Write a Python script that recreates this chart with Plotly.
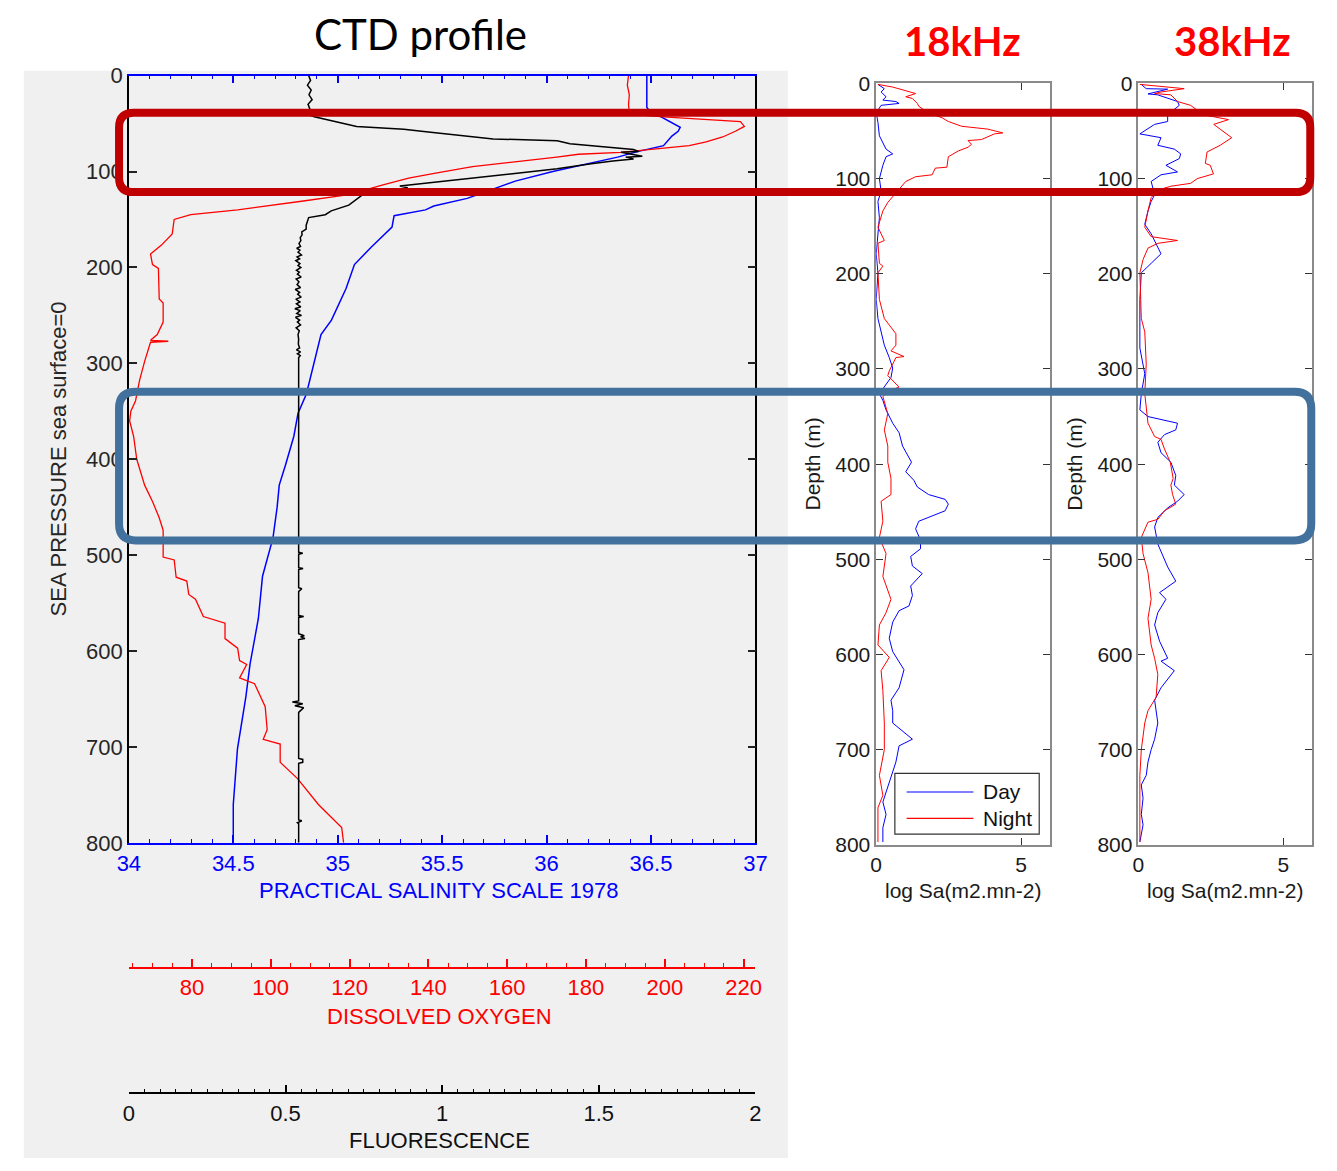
import plotly.graph_objects as go

W, H = 1337, 1171

# ---------------- CTD cast ----------------
sal_depth = [0, 33, 36, 44, 54, 58, 63, 73, 79, 85, 94, 100, 110, 119, 128, 136, 140, 146,
             158, 179, 197, 222, 255, 270, 298, 332, 352, 376, 406, 427, 450, 482, 522, 566,
             614, 648, 702, 760, 800]
salinity = [36.48, 36.48, 36.49, 36.56, 36.64, 36.63, 36.60, 36.56, 36.44, 36.34, 36.15, 36.03,
            35.85, 35.74, 35.62, 35.46, 35.42, 35.27, 35.26, 35.16, 35.08, 35.04, 34.97, 34.92,
            34.89, 34.85, 34.81, 34.79, 34.75, 34.72, 34.71, 34.69, 34.64, 34.62, 34.58, 34.56,
            34.52, 34.50, 34.50]

oxy_depth = [0, 10, 20, 30, 39, 41, 43, 48, 53, 58, 64, 69, 73, 77, 80, 82, 85, 90, 95, 102,
             107, 114, 124, 131, 140, 145, 150, 165, 177, 186, 197, 201, 233, 237, 257, 270,
             276, 277, 278, 298, 318, 339, 350, 360, 376, 400, 427, 444, 461, 474, 502, 505,
             523, 527, 541, 546, 564, 571, 587, 597, 610, 614, 628, 634, 658, 682, 692, 697,
             716, 733, 760, 773, 784, 800]
oxygen = [190.8, 190.5, 191.0, 190.8, 191.0, 193.3, 199.7, 219.2, 220.2, 217.9, 214.7, 210.5,
          206.2, 196.5, 188.8, 178.1, 172.6, 161.9, 151.2, 141.5, 135.0, 128.5, 119.8, 107.8,
          91.6, 79.7, 75.5, 75.0, 72.2, 69.5, 70.0, 71.5, 71.7, 72.7, 72.7, 71.2, 69.5, 74.0,
          69.5, 68.0, 66.7, 65.7, 64.5, 64.2, 65.2, 66.0, 68.0, 70.0, 71.7, 72.7, 72.7, 75.5,
          76.0, 78.7, 79.2, 80.9, 82.9, 88.4, 88.4, 91.6, 92.1, 93.9, 92.1, 95.9, 98.6, 99.1,
          98.1, 102.4, 102.4, 106.8, 112.1, 115.3, 118.0, 118.5]

flu_depth = [0, 5, 10, 15, 20, 25, 30, 35, 41, 43, 53, 54, 56, 58, 63, 66, 68, 71, 74, 77,
             79, 80, 84, 85, 87, 89, 92, 97, 102, 107, 112, 115, 117, 119, 122, 135, 141, 145,
             148, 152, 156, 160, 163, 166, 169, 172, 175, 178, 180, 182, 184, 187, 189, 191,
             193, 196, 198, 200, 203, 205, 207, 210, 212, 215, 218, 221, 223, 226, 228, 231,
             233, 236, 238, 241, 243, 245, 248, 250, 252, 255, 257, 260, 263, 266, 270, 275,
             280, 284, 286, 288, 290, 292, 294,
             497, 498, 499, 513, 514, 515, 534, 535, 537, 538, 563, 564, 565,
             582, 584, 585, 587, 588, 652, 653, 655, 657, 659, 664, 712, 713, 716, 717,
             776, 777, 779, 780, 800]
fluorescence = [0.574, 0.580, 0.570, 0.582, 0.575, 0.585, 0.572, 0.578, 0.575, 0.592, 0.727,
                0.784, 0.878, 0.934, 1.081, 1.163, 1.367, 1.408, 1.505, 1.611, 1.627, 1.571,
                1.639, 1.586, 1.611, 1.545, 1.476, 1.367, 1.232, 1.097, 0.959, 0.865, 0.890,
                0.865, 0.755, 0.702, 0.646, 0.627,
                0.574, 0.570, 0.566, 0.566, 0.552, 0.553, 0.547, 0.549, 0.543, 0.548, 0.536,
                0.546, 0.540, 0.551, 0.537, 0.545, 0.533, 0.546, 0.540, 0.549, 0.535, 0.544,
                0.538, 0.550, 0.534, 0.543, 0.537, 0.548, 0.531, 0.545, 0.539, 0.550, 0.533,
                0.546, 0.535, 0.549, 0.530, 0.547, 0.536, 0.551, 0.532, 0.545, 0.538, 0.548,
                0.534, 0.544, 0.540, 0.542, 0.541, 0.545, 0.535, 0.548, 0.538, 0.547, 0.542,
                0.542, 0.555, 0.542, 0.542, 0.556, 0.542, 0.542, 0.552, 0.545, 0.542,
                0.542, 0.558, 0.542, 0.542, 0.560, 0.548, 0.562, 0.542, 0.542, 0.522,
                0.555, 0.530, 0.558, 0.542, 0.542, 0.555, 0.555, 0.542, 0.542, 0.552,
                0.538, 0.542, 0.542]

sal_ticks = [34, 34.5, 35, 35.5, 36, 36.5, 37]
oxy_ticks = [80, 100, 120, 140, 160, 180, 200, 220]
flu_ticks = [0, 0.5, 1, 1.5, 2]
depth_ticks = [0, 100, 200, 300, 400, 500, 600, 700, 800]

# ---------------- Acoustic backscatter ----------------
d18_day = [1, 5.5, 9, 14, 17.5, 19, 21, 23, 31, 41, 55, 62, 69, 74, 77, 86, 100, 113, 124, 141,
           158, 179, 199, 227, 247, 261, 275, 288, 299, 309, 326, 333, 343, 357, 367, 381, 398,
           408, 417, 424, 432, 437, 442, 449, 456, 460, 468, 480, 489, 497, 507, 515, 528, 538,
           549, 554, 566, 583, 597, 607, 616, 635, 648, 659, 672, 689, 696, 713, 734, 755, 768,
           782, 797]
sa18_day = [0.06, 0.28, 0.17, 0.34, 0.23, 0.68, 0.79, 0.17, 0.0, 0.06, 0.11, 0.23, 0.34, 0.57,
            0.34, 0.23, 0.11, 0.17, 0.06, 0.11, 0.06, 0.0, 0.06, 0.0, 0.06, 0.17, 0.28, 0.45,
            0.57, 0.51, 0.11, 0.23, 0.34, 0.57, 0.79, 0.91, 1.22, 1.02, 1.30, 1.42, 1.81, 2.38,
            2.49, 2.38, 1.81, 1.47, 1.36, 1.53, 1.53, 1.19, 1.25, 1.59, 1.19, 1.25, 1.13, 0.79,
            0.57, 0.45, 0.57, 0.79, 0.96, 0.79, 0.51, 0.57, 0.57, 1.25, 0.79, 0.68, 0.45, 0.23,
            0.34, 0.23, 0.23]

d18_night = [1, 3.8, 10.6, 14, 15.8, 21, 24, 31, 36, 40, 45, 48, 52, 53, 59, 60, 64, 67, 71, 77,
             88, 89, 96, 98, 103, 107, 112, 120, 125, 134, 148, 151, 165, 168, 189, 192, 199,
             227, 247, 263, 275, 281, 287, 288, 295, 302, 307, 319, 323, 329, 347, 364, 381,
             398, 415, 432, 439, 460, 477, 494, 518, 542, 556, 569, 590, 603, 617, 638, 672,
             700, 727, 748, 761, 797]
sa18_night = [0.06, 0.57, 1.36, 1.02, 1.25, 1.42, 1.47, 1.81, 2.27, 2.49, 2.95, 3.85, 4.37,
              4.08, 3.63, 3.17, 3.29, 3.17, 2.83, 2.49, 2.44, 2.04, 1.93, 1.36, 1.02, 0.91,
              0.79, 0.57, 0.40, 0.23, 0.11, 0.06, 0.28, 0.06, 0.11, 0.23, 0.06, 0.11, 0.28,
              0.68, 0.68, 0.51, 0.96, 0.68, 0.57, 0.45, 0.40, 0.79, 0.45, 0.23, 0.40, 0.28,
              0.40, 0.40, 0.51, 0.51, 0.17, 0.23, 0.11, 0.34, 0.23, 0.51, 0.34, 0.11, 0.06,
              0.45, 0.17, 0.23, 0.28, 0.28, 0.11, 0.23, 0.06, 0.06]

d38_day = [1, 5.5, 6, 11, 12, 19, 23, 33, 40, 43, 53, 57, 65, 69, 74, 79, 86, 93, 96, 103,
           117, 124, 134, 148, 158, 165, 179, 189, 199, 227, 278, 305, 326, 343, 350, 357, 364,
           369, 377, 388, 398, 412, 422, 432, 439, 446, 456, 466, 484, 508, 523, 535, 542, 556,
           569, 586, 604, 607, 617, 635, 648, 672, 689, 700, 713, 727, 737, 751, 768, 779, 797]
sa38_day = [0.10, 0.27, 1.01, 0.33, 0.67, 1.35, 1.41, 1.01, 1.01, 0.56, 0.05, 0.78, 0.67, 1.24,
            1.46, 1.41, 0.95, 1.35, 0.78, 0.44, 0.56, 0.44, 0.33, 0.22, 0.44, 0.56, 0.78, 0.44,
            0.10, 0.05, 0.05, 0.22, 0.10, 0.05, 0.33, 1.35, 1.29, 0.90, 0.67, 0.78, 1.12, 1.29,
            1.24, 1.58, 1.35, 1.01, 0.67, 0.56, 0.67, 1.01, 1.29, 0.73, 0.95, 0.67, 0.56, 0.73,
            1.01, 0.78, 1.24, 0.78, 0.56, 0.67, 0.56, 0.44, 0.33, 0.27, 0.10, 0.16, 0.10, 0.16,
            0.05]

d38_night = [1, 5.5, 9, 10.6, 12, 19, 23, 33, 38, 43, 48, 57, 65, 72, 84, 86, 95, 100, 105, 108,
             112, 120, 134, 151, 161, 165, 168, 173, 185, 199, 227, 247, 261, 295, 326, 357,
             371, 374, 384, 398, 415, 422, 432, 442, 449, 458, 461, 477, 494, 514, 542, 562,
             590, 604, 621, 645, 659, 672, 700, 727, 797]
sa38_night = [0.05, 1.58, 0.78, 0.56, 1.12, 1.35, 1.80, 2.26, 3.11, 2.60, 2.82, 3.22, 2.82,
              2.37, 2.31, 2.48, 2.59, 2.03, 1.80, 1.12, 0.67, 0.44, 0.33, 0.22, 0.44, 1.35,
              0.67, 0.33, 0.16, 0.05, 0.08, 0.10, 0.22, 0.27, 0.22, 0.33, 0.56, 0.78, 0.90,
              1.10, 1.20, 1.12, 1.18, 1.29, 0.90, 0.67, 0.33, 0.10, 0.16, 0.33, 0.44, 0.33,
              0.44, 0.56, 0.67, 0.61, 0.33, 0.22, 0.10, 0.05, 0.05]

sa_ticks = [0, 5]
series_names = ["Day", "Night"]

# ---------------- helpers (pixel -> paper) ----------------
def fx(x):
    return x / W


def fy(y):
    return 1 - y / H


def rounded_rect(x0, y0, x1, y1, r):
    pts = [("M", [(x0 + r, y0)]), ("L", [(x1 - r, y0)]), ("Q", [(x1, y0), (x1, y0 + r)]),
           ("L", [(x1, y1 - r)]), ("Q", [(x1, y1), (x1 - r, y1)]), ("L", [(x0 + r, y1)]),
           ("Q", [(x0, y1), (x0, y1 - r)]), ("L", [(x0, y0 + r)]), ("Q", [(x0, y0), (x0 + r, y0)])]
    out = []
    for cmd, coords in pts:
        out.append(cmd + " " + " ".join(f"{fx(a):.5f},{fy(b):.5f}" for a, b in coords))
    return " ".join(out) + " Z"


BLUE = "#0000ff"
RED = "#ff0000"
FONT = "Liberation Sans, Arial, sans-serif"

fig = go.Figure()

# CTD traces
fig.add_trace(go.Scatter(x=oxygen, y=oxy_depth, xaxis="x2", yaxis="y", mode="lines",
                         line=dict(color=RED, width=1.3), showlegend=False))
fig.add_trace(go.Scatter(x=salinity, y=sal_depth, xaxis="x", yaxis="y", mode="lines",
                         line=dict(color=BLUE, width=1.5), showlegend=False))
fig.add_trace(go.Scatter(x=fluorescence, y=flu_depth, xaxis="x3", yaxis="y", mode="lines",
                         line=dict(color="#000000", width=1.5), showlegend=False))

# acoustic traces
fig.add_trace(go.Scatter(x=sa18_day, y=d18_day, xaxis="x4", yaxis="y2", mode="lines",
                         name=series_names[0], line=dict(color=BLUE, width=1), showlegend=False))
fig.add_trace(go.Scatter(x=sa18_night, y=d18_night, xaxis="x4", yaxis="y2", mode="lines",
                         name=series_names[1], line=dict(color=RED, width=1), showlegend=False))
fig.add_trace(go.Scatter(x=sa38_day, y=d38_day, xaxis="x5", yaxis="y3", mode="lines",
                         name=series_names[0], line=dict(color=BLUE, width=1), showlegend=False))
fig.add_trace(go.Scatter(x=sa38_night, y=d38_night, xaxis="x5", yaxis="y3", mode="lines",
                         name=series_names[1], line=dict(color=RED, width=1), showlegend=False))

ctd_dom_x = [fx(119), fx(757)]
ctd_dom_y = [fy(849), fy(65)]


def fmt(v):
    return f"{v:g}"


common_off = dict(showgrid=False, zeroline=False)

layout = dict(
    width=W, height=H, autosize=False,
    margin=dict(l=0, r=0, t=0, b=0, pad=0),
    paper_bgcolor="white", plot_bgcolor="white",
    font=dict(family=FONT, size=22, color="#222222"),
    xaxis=dict(domain=ctd_dom_x, range=[34, 37], anchor="y", side="bottom",
               showline=True, linecolor=BLUE, linewidth=1.5, mirror="ticks",
               ticks="inside", ticklen=8, tickwidth=1.5, tickcolor=BLUE,
               tickvals=sal_ticks, ticktext=[fmt(v) for v in sal_ticks],
               tickfont=dict(color=BLUE, size=22),
               minor=dict(dtick=0.1, ticks="inside", ticklen=4, tickcolor=BLUE, tickwidth=1.2),
               **common_off),
    xaxis2=dict(domain=ctd_dom_x, range=[64, 223], overlaying="x", anchor="free",
                position=fy(977), side="bottom",
                showline=True, linecolor=RED, linewidth=1.5,
                ticks="inside", ticklen=8, tickwidth=1.5, tickcolor=RED,
                tickvals=oxy_ticks, ticktext=[fmt(v) for v in oxy_ticks],
                tickfont=dict(color=RED, size=22),
                minor=dict(dtick=5, tick0=0, ticks="inside", ticklen=4, tickcolor=RED, tickwidth=1.2),
                **common_off),
    xaxis3=dict(domain=ctd_dom_x, range=[0, 2], overlaying="x", anchor="free",
                position=fy(1105), side="bottom",
                showline=True, linecolor="#000000", linewidth=1.5,
                ticks="inside", ticklen=8, tickwidth=1.5, tickcolor="#000000",
                tickvals=flu_ticks, ticktext=[fmt(v) for v in flu_ticks],
                tickfont=dict(color="#111111", size=22),
                minor=dict(dtick=0.05, ticks="inside", ticklen=4, tickcolor="#000000", tickwidth=1.2),
                **common_off),
    yaxis=dict(domain=ctd_dom_y, range=[800, 0], anchor="x",
               showline=True, linecolor="#000000", linewidth=1.5, mirror="ticks",
               ticks="inside", ticklen=8, tickwidth=1.5, tickcolor="#222222",
               tickvals=depth_ticks, ticktext=[str(v) for v in depth_ticks],
               tickfont=dict(color="#262626", size=22), **common_off),
)

ac_y = [fy(851), fy(73)]
for xa, ya, x0, x1 in [("xaxis4", "yaxis2", 880, 1057), ("xaxis5", "yaxis3", 1147, 1324)]:
    xname = "x" + xa[5:]
    yname = "y" + ya[5:]
    layout[xa] = dict(domain=[fx(x0), fx(x1)], range=[0, 6], anchor=yname,
                      showline=True, linecolor="#8a8a8a", linewidth=1.5, mirror="ticks",
                      ticks="inside", ticklen=7, tickwidth=1.2, tickcolor="#333333",
                      tickvals=sa_ticks, ticktext=[str(v) for v in sa_ticks],
                      tickfont=dict(color="#1a1a1a", size=21), **common_off)
    layout[ya] = dict(domain=ac_y, range=[800, 0], anchor=xname,
                      showline=True, linecolor="#8a8a8a", linewidth=1.5, mirror="ticks",
                      ticks="inside", ticklen=7, tickwidth=1.2, tickcolor="#333333",
                      tickvals=depth_ticks, ticktext=[str(v) for v in depth_ticks],
                      tickfont=dict(color="#1a1a1a", size=21), **common_off)

fig.update_layout(**layout)


def label(text, x, y, size=22, color="#222222", angle=0, family=FONT, bold=False, xanchor="center"):
    if bold:
        text = "<b>" + text + "</b>"
    fig.add_annotation(text=text, x=fx(x), y=fy(y), xref="paper", yref="paper",
                       showarrow=False, textangle=angle, xanchor=xanchor, yanchor="middle",
                       font=dict(family=family, size=size, color=color))


# panel headings
label("CTD profile", 416, 22, size=42, color="#000000", family="Lato, Open Sans, sans-serif")
label("18kHz", 968, 30, size=40, color="#ff0000", family="Lato, Open Sans, sans-serif", bold=True)
label("38kHz", 1243, 30, size=40, color="#ff0000", family="Lato, Open Sans, sans-serif", bold=True)

# CTD axis titles
label("PRACTICAL SALINITY SCALE 1978", 435, 898, color=BLUE)
label("DISSOLVED OXYGEN", 435, 1026, color=RED)
label("FLUORESCENCE", 435, 1153, color="#111111")
label("SEA PRESSURE sea surface=0", 47, 457, color="#262626", angle=-90)

# acoustic axis titles
for cx, ly in [(968, 898), (1235, 898)]:
    label("log Sa(m2.mn-2)", cx, ly, size=21, color="#1a1a1a")
for lx in (815, 1082):
    label("Depth (m)", lx, 462, size=21, color="#1a1a1a", angle=-90)

shapes = []
# grey backdrop behind the CTD panel
shapes.append(dict(type="rect", xref="paper", yref="paper", x0=fx(12), x1=fx(790),
                   y0=fy(1171), y1=fy(60), fillcolor="#f0f0f0", line=dict(width=0),
                   layer="below"))

# Day / Night key on the 18 kHz panel
shapes.append(dict(type="rect", xref="paper", yref="paper", x0=fx(899), x1=fx(1046),
                   y0=fy(840), y1=fy(778), fillcolor="white",
                   line=dict(color="#333333", width=1.2), layer="above"))
shapes.append(dict(type="line", xref="paper", yref="paper", x0=fx(911), x1=fx(979),
                   y0=fy(797), y1=fy(797), line=dict(color=BLUE, width=1.2), layer="above"))
shapes.append(dict(type="line", xref="paper", yref="paper", x0=fx(911), x1=fx(979),
                   y0=fy(824), y1=fy(824), line=dict(color=RED, width=1.2), layer="above"))

# highlighted depth layers
shapes.append(dict(type="path", xref="paper", yref="paper",
                   path=rounded_rect(109, 103, 1322, 184, 15),
                   line=dict(color="#c00000", width=8), layer="above"))
shapes.append(dict(type="path", xref="paper", yref="paper",
                   path=rounded_rect(109, 388, 1323, 540, 17),
                   line=dict(color="#41719c", width=8), layer="above"))
fig.update_layout(shapes=shapes)

label(series_names[0], 987, 797, size=21, color="#111111", xanchor="left")
label(series_names[1], 987, 824, size=21, color="#111111", xanchor="left")

fig.write_html("out.html")
